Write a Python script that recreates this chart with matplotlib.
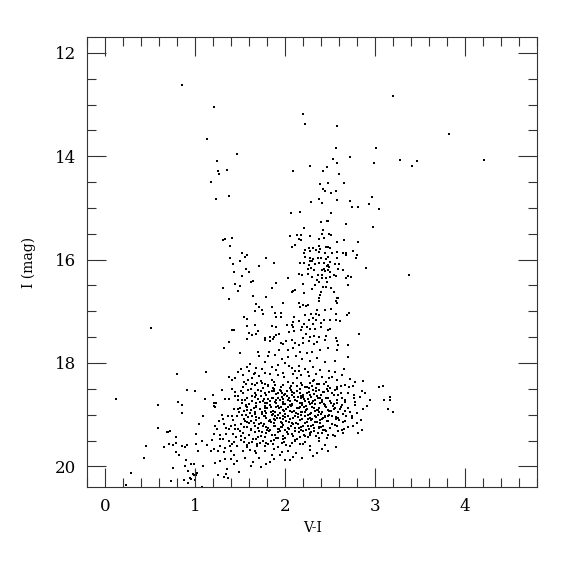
import numpy as np
import matplotlib.pyplot as plt
from matplotlib.ticker import MultipleLocator

plt.rcParams['font.family'] = 'DejaVu Serif'

# (V-I, I) pairs, grouped by region
bright = [(0.85, 12.63), (1.21, 13.05), (1.13, 13.67), (1.46, 13.95), (1.24, 14.10),
          (1.25, 14.28), (1.26, 14.34), (1.35, 14.27), (1.17, 14.50),
          (2.20, 13.18), (2.22, 13.38), (2.58, 13.41), (2.56, 13.85), (3.01, 13.85),
          (2.53, 14.05), (2.72, 14.02), (2.99, 14.13), (2.28, 14.19), (2.46, 14.21),
          (2.58, 14.14), (2.42, 14.28), (2.09, 14.28), (2.60, 14.34), (2.39, 14.53),
          (2.47, 14.52), (2.65, 14.52),
          (3.20, 12.84), (3.82, 13.57), (3.28, 14.08), (3.41, 14.19), (3.46, 14.09),
          (4.21, 14.08), (3.38, 16.29),
          (3.04, 18.47), (3.09, 18.45), (3.10, 18.72), (3.14, 18.89), (3.16, 18.65),
          (3.16, 18.72), (3.20, 18.94)]

blue_branch = [(1.38, 14.77), (1.23, 14.83), (1.41, 15.58), (1.33, 15.60), (1.31, 15.63),
               (1.39, 15.74), (1.39, 15.96), (1.42, 16.08), (1.43, 16.23), (1.44, 16.47),
               (1.31, 16.55), (1.47, 16.61), (1.37, 16.76), (0.51, 17.33), (1.41, 17.37),
               (1.43, 17.37)]

giants = [(2.42, 14.63), (2.44, 14.68), (2.56, 14.67), (2.51, 14.71), (2.38, 14.83),
          (2.29, 14.88), (2.41, 14.90), (2.57, 14.84), (2.97, 14.79), (2.72, 14.87),
          (2.93, 14.92), (2.74, 14.99), (2.81, 14.98), (3.04, 15.02), (2.06, 15.09),
          (2.16, 15.08), (2.51, 15.09), (2.40, 15.28), (2.46, 15.25), (2.48, 15.25),
          (2.68, 15.32), (2.98, 15.37), (2.21, 15.39), (2.42, 15.43), (2.41, 15.51),
          (2.49, 15.50), (2.51, 15.53), (2.13, 15.52), (2.18, 15.53), (2.05, 15.54),
          (2.27, 15.55), (2.15, 15.61), (2.18, 15.62), (2.37, 15.60), (2.43, 15.58),
          (2.57, 15.65), (2.65, 15.63), (2.81, 15.66), (2.11, 15.72), (2.08, 15.75),
          (2.37, 15.73), (2.22, 15.81), (2.26, 15.78), (2.31, 15.78), (2.34, 15.82),
          (2.39, 15.79), (2.45, 15.76), (2.48, 15.75), (2.50, 15.77), (2.21, 15.87),
          (2.28, 15.84), (2.37, 15.86), (2.44, 15.88), (2.52, 15.88), (2.57, 15.86),
          (2.64, 15.88), (2.68, 15.87), (2.75, 15.83), (2.80, 15.92), (2.79, 15.96),
          (1.52, 15.87), (1.55, 15.94), (1.57, 15.92), (1.50, 16.03), (1.79, 15.96),
          (1.87, 16.07), (1.71, 16.12), (2.22, 15.94), (2.28, 15.97), (2.31, 15.99),
          (2.30, 16.02), (2.27, 16.03), (2.36, 15.97), (2.40, 15.97), (2.45, 15.98),
          (2.47, 15.94), (2.57, 15.96), (2.60, 16.08), (2.68, 15.92), (2.16, 16.07),
          (2.21, 16.07), (2.26, 16.10), (2.33, 16.09), (2.37, 16.07), (2.43, 16.07),
          (2.47, 16.10), (2.49, 16.15), (2.50, 16.04), (2.55, 16.09), (2.25, 16.18),
          (2.29, 16.17), (2.32, 16.21), (2.41, 16.20), (2.43, 16.18), (2.44, 16.22),
          (2.46, 16.13), (2.48, 16.20), (2.50, 16.24), (2.59, 16.19), (2.64, 16.21),
          (1.56, 16.18), (1.60, 16.23), (2.90, 16.16), (2.15, 16.28), (2.19, 16.29),
          (2.25, 16.27), (2.30, 16.34), (2.36, 16.29), (2.41, 16.29), (2.41, 16.36),
          (2.45, 16.35), (2.50, 16.34), (2.54, 16.29), (2.56, 16.31), (2.70, 16.31),
          (2.68, 16.36), (2.73, 16.34), (1.52, 16.32), (1.62, 16.43), (1.64, 16.42),
          (2.03, 16.36), (2.35, 16.40), (2.38, 16.44), (2.46, 16.43), (1.50, 16.51),
          (1.85, 16.54), (1.90, 16.45), (2.20, 16.48), (2.33, 16.50), (2.42, 16.53),
          (2.45, 16.53), (2.51, 16.55), (2.70, 16.50), (2.07, 16.63), (2.09, 16.60),
          (2.11, 16.59), (2.30, 16.57), (2.40, 16.63), (2.39, 16.69), (2.54, 16.63),
          (1.64, 16.70), (1.79, 16.72), (2.21, 16.65), (2.38, 16.74), (2.37, 16.81),
          (2.57, 16.75), (2.59, 16.74), (2.56, 16.81), (2.58, 16.84), (1.98, 16.83),
          (2.15, 16.83), (2.20, 16.87), (2.23, 16.89), (2.25, 16.88), (2.16, 16.92),
          (1.68, 16.86), (1.85, 16.92), (1.71, 16.91), (1.66, 17.00), (1.74, 16.98),
          (1.75, 17.05), (1.89, 17.04), (1.95, 17.03), (2.35, 16.98), (2.44, 16.98),
          (2.51, 16.95), (2.56, 17.05), (2.34, 17.05), (2.29, 17.05), (2.38, 17.07),
          (2.31, 17.12), (1.90, 17.11), (1.95, 17.11), (2.10, 17.11), (2.22, 17.08),
          (1.54, 17.11), (1.57, 17.14), (2.71, 17.04), (2.69, 17.07), (2.26, 17.16),
          (2.34, 17.17), (2.43, 17.17), (2.50, 17.17), (2.56, 17.17), (2.61, 17.18),
          (2.15, 17.19), (2.09, 17.21), (2.07, 17.26), (2.02, 17.26), (2.09, 17.31),
          (2.21, 17.25), (2.31, 17.25), (2.40, 17.22), (1.66, 17.26), (1.85, 17.28),
          (1.90, 17.30), (1.58, 17.29), (2.19, 17.31), (2.24, 17.31), (2.27, 17.34),
          (2.33, 17.34), (2.40, 17.31), (2.17, 17.36), (2.48, 17.36), (2.50, 17.35),
          (2.10, 17.39), (2.04, 17.40), (1.70, 17.38), (1.60, 17.42), (1.63, 17.45),
          (1.67, 17.43), (1.93, 17.43), (1.90, 17.45), (2.23, 17.43), (2.32, 17.47),
          (2.82, 17.43), (1.83, 17.50), (1.88, 17.49), (1.78, 17.51), (2.20, 17.51),
          (2.27, 17.50), (2.38, 17.49), (2.45, 17.47), (2.56, 17.51)]

faint_blue = [(1.38, 17.60), (1.32, 17.71), (0.80, 18.22), (1.12, 18.18), (1.47, 18.18),
              (0.91, 18.53), (1.00, 18.54), (1.37, 18.27), (1.41, 18.32), (1.44, 18.30),
              (1.30, 18.52), (1.41, 18.51), (1.20, 18.62), (1.11, 18.70), (0.12, 18.69),
              (0.59, 18.81), (0.81, 18.76), (0.85, 18.81), (1.21, 18.78), (1.23, 18.78),
              (1.21, 18.83), (1.22, 18.85), (1.33, 18.70), (1.38, 18.70), (1.44, 18.64),
              (1.44, 18.57), (1.47, 18.72), (1.43, 18.89), (1.47, 18.90), (0.85, 18.97),
              (1.09, 19.02), (1.30, 19.00), (1.36, 19.03), (1.41, 19.02), (1.46, 19.02),
              (1.26, 19.12), (1.31, 19.09), (1.42, 19.11), (1.32, 19.18), (1.40, 19.21),
              (1.44, 19.20), (1.22, 19.22), (1.24, 19.27), (1.34, 19.26), (1.38, 19.28),
              (1.44, 19.27), (1.04, 19.18), (0.58, 19.25), (0.69, 19.33), (0.70, 19.33),
              (0.72, 19.31), (0.79, 19.43), (1.01, 19.38), (1.21, 19.37), (1.27, 19.39),
              (1.34, 19.37), (1.42, 19.37), (1.45, 19.44), (1.19, 19.49), (1.27, 19.47),
              (1.31, 19.47), (1.38, 19.50), (1.43, 19.52), (1.07, 19.51), (1.01, 19.57),
              (1.13, 19.58), (1.21, 19.66), (1.27, 19.60), (1.33, 19.65), (1.39, 19.60),
              (1.41, 19.56), (1.46, 19.61), (0.45, 19.60), (0.65, 19.63), (0.71, 19.56),
              (0.75, 19.58), (0.79, 19.55), (0.85, 19.60), (0.88, 19.62), (0.91, 19.58),
              (1.17, 19.71), (1.25, 19.71), (1.32, 19.73), (1.40, 19.70), (1.43, 19.78),
              (1.03, 19.71), (0.43, 19.84), (0.79, 19.73), (0.82, 19.78), (0.90, 19.88),
              (1.22, 19.94), (1.28, 19.89), (1.33, 19.85), (1.40, 19.85), (1.46, 19.89),
              (0.95, 19.95), (0.98, 19.95), (1.08, 19.99), (0.75, 20.03), (0.88, 19.99),
              (0.92, 20.09), (1.35, 20.05), (1.43, 19.96), (0.28, 20.12), (0.97, 20.15),
              (1.01, 20.16), (1.02, 20.13), (1.25, 20.16), (1.34, 20.14), (1.32, 20.20),
              (1.36, 20.22), (0.94, 20.22), (0.95, 20.25), (0.87, 20.27), (0.73, 20.29),
              (0.92, 20.33), (1.00, 20.26), (0.23, 20.36), (1.07, 20.40), (0.99, 20.16)]

clump = [(1.58, 17.54), (1.77, 17.55), (1.83, 17.57), (1.86, 17.54), (1.95, 17.61),
         (1.98, 17.63), (2.01, 17.58), (2.07, 17.55), (2.11, 17.62), (2.15, 17.65),
         (2.20, 17.62), (2.26, 17.57), (2.32, 17.63), (2.35, 17.60), (2.44, 17.55),
         (2.57, 17.58), (2.59, 17.65), (2.70, 17.65), (1.70, 17.78), (1.82, 17.78),
         (1.93, 17.74), (2.03, 17.74), (2.09, 17.71), (2.16, 17.78), (2.24, 17.81),
         (2.30, 17.78), (2.39, 17.74), (2.47, 17.71), (2.58, 17.74), (1.50, 17.81),
         (1.71, 17.87), (1.81, 17.87), (1.89, 17.84), (1.96, 17.92), (2.03, 17.89),
         (2.12, 17.87), (2.19, 17.92), (2.28, 17.96), (2.35, 17.91), (2.44, 17.98),
         (2.55, 17.97), (2.70, 17.89), (1.61, 18.02), (1.68, 18.10), (1.77, 17.98),
         (1.85, 18.07), (1.92, 18.03), (2.00, 18.00), (2.07, 18.09), (2.15, 18.05),
         (2.22, 18.11), (2.31, 18.07), (2.39, 18.13), (2.49, 18.16), (2.55, 18.18),
         (1.60, 18.16), (1.51, 18.11), (1.53, 18.23), (1.63, 18.29), (1.71, 18.26),
         (1.77, 18.20), (1.85, 18.32), (1.92, 18.24), (1.99, 18.28), (2.03, 18.36),
         (2.09, 18.22), (2.13, 18.29), (2.15, 18.16), (2.18, 18.39), (2.26, 18.26),
         (2.32, 18.32), (2.37, 18.41), (2.45, 18.36), (2.52, 18.28), (2.63, 18.24),
         (2.72, 18.31), (2.78, 18.36), (2.86, 18.34), (1.54, 18.36), (1.66, 18.42),
         (1.74, 18.39), (1.81, 18.45), (1.89, 18.43), (1.95, 18.47), (2.06, 18.45),
         (2.22, 18.47), (2.30, 18.45), (2.48, 18.45), (2.57, 18.47), (2.66, 18.42),
         (1.51, 18.55), (1.59, 18.52), (1.66, 18.58), (1.73, 18.54), (1.79, 18.62),
         (1.85, 18.55), (1.90, 18.60), (1.96, 18.65), (2.02, 18.54), (2.07, 18.62),
         (2.13, 18.55), (2.18, 18.67), (2.24, 18.58), (2.29, 18.65), (2.34, 18.55),
         (2.40, 18.62), (2.45, 18.68), (2.52, 18.58), (2.59, 18.62), (2.67, 18.71),
         (2.76, 18.68), (2.83, 18.65), (2.85, 18.55), (1.55, 18.71), (1.63, 18.74),
         (1.70, 18.69), (1.77, 18.78), (1.83, 18.73), (1.89, 18.76), (1.94, 18.71),
         (2.00, 18.80), (2.05, 18.74), (2.11, 18.71), (2.16, 18.78), (2.22, 18.74),
         (2.28, 18.80), (2.33, 18.71), (2.39, 18.78), (2.44, 18.81), (2.50, 18.74),
         (2.57, 18.78), (2.63, 18.81), (2.91, 18.84), (2.78, 18.76), (1.50, 18.87),
         (1.56, 18.84), (1.62, 18.91), (1.68, 18.86), (1.74, 18.94), (1.80, 18.87),
         (1.86, 18.92), (1.92, 18.84), (1.97, 18.91), (2.03, 18.86), (2.07, 18.95),
         (2.13, 18.87), (2.18, 18.94), (2.24, 18.89), (2.29, 18.97), (2.35, 18.91),
         (2.41, 18.95), (2.47, 18.91), (2.54, 18.89), (2.59, 18.94), (2.70, 18.87),
         (2.86, 18.89), (1.52, 19.00), (1.59, 19.05), (1.66, 18.99), (1.71, 19.07),
         (1.77, 19.02), (1.83, 19.10), (1.89, 19.02), (1.94, 19.07), (2.00, 18.99),
         (2.05, 19.08), (2.11, 19.02), (2.16, 19.10), (2.22, 19.03), (2.28, 19.07),
         (2.33, 19.02), (2.39, 19.10), (2.44, 19.05), (2.52, 19.02), (2.59, 19.07),
         (2.66, 19.12), (2.74, 19.03), (2.80, 18.97), (2.84, 19.10), (1.51, 19.18),
         (1.58, 19.23), (1.65, 19.16), (1.70, 19.26), (1.76, 19.18), (1.81, 19.25),
         (1.87, 19.16), (1.92, 19.27), (1.98, 19.20), (2.03, 19.26), (2.09, 19.18),
         (2.15, 19.25), (2.20, 19.21), (2.26, 19.27), (2.31, 19.20), (2.37, 19.25),
         (2.42, 19.21), (2.50, 19.26), (2.55, 19.20), (2.63, 19.29), (2.70, 19.23),
         (1.53, 19.36), (1.60, 19.39), (1.66, 19.34), (1.73, 19.42), (1.79, 19.36),
         (1.85, 19.40), (1.92, 19.34), (1.97, 19.42), (2.03, 19.38), (2.09, 19.42),
         (2.15, 19.34), (2.21, 19.40), (2.28, 19.36), (2.34, 19.42), (2.41, 19.36),
         (2.47, 19.39), (2.55, 19.42), (2.85, 19.29), (2.64, 19.36), (1.51, 19.49),
         (1.57, 19.58), (1.63, 19.52), (1.69, 19.60), (1.75, 19.51), (1.81, 19.57),
         (1.88, 19.49), (1.92, 19.62), (1.99, 19.53), (2.05, 19.60), (2.11, 19.51),
         (2.16, 19.57), (2.22, 19.52), (2.28, 19.60), (2.37, 19.51), (2.44, 19.58),
         (2.56, 19.62), (1.53, 19.71), (1.61, 19.68), (1.68, 19.74), (1.77, 19.70),
         (1.85, 19.78), (1.96, 19.73), (2.03, 19.70), (2.09, 19.81), (2.35, 19.74),
         (1.83, 19.92), (2.00, 19.87), (1.62, 20.00), (1.73, 20.01), (1.49, 20.11)]

# extra stars in the crowded core of the clump
core = [(1.56, 18.40), (1.69, 18.38), (1.78, 18.41), (1.87, 18.37), (1.98, 18.42),
        (2.09, 18.39), (2.19, 18.43), (2.27, 18.38), (2.35, 18.41), (2.43, 18.40),
        (1.62, 18.50), (1.75, 18.48), (1.88, 18.51), (1.94, 18.53), (2.05, 18.49),
        (2.16, 18.50), (2.26, 18.48), (2.31, 18.52), (2.46, 18.50), (2.55, 18.53),
        (1.53, 18.59), (1.68, 18.61), (1.82, 18.57), (1.92, 18.59), (2.00, 18.60),
        (2.10, 18.58), (2.20, 18.61), (2.32, 18.60), (2.42, 18.57), (2.62, 18.59),
        (1.58, 18.68), (1.66, 18.66), (1.76, 18.69), (1.86, 18.67), (1.98, 18.70),
        (2.04, 18.68), (2.14, 18.66), (2.25, 18.69), (2.36, 18.67), (2.48, 18.68),
        (1.52, 18.77), (1.60, 18.79), (1.72, 18.76), (1.80, 18.78), (1.90, 18.77),
        (1.97, 18.76), (2.08, 18.79), (2.19, 18.77), (2.30, 18.78), (2.41, 18.76),
        (2.54, 18.79), (1.58, 18.85), (1.65, 18.87), (1.77, 18.84), (1.84, 18.86),
        (1.95, 18.85), (2.06, 18.84), (2.16, 18.86), (2.21, 18.85), (2.32, 18.87),
        (2.44, 18.84), (2.62, 18.86), (1.54, 18.93), (1.66, 18.95), (1.78, 18.92),
        (1.89, 18.94), (1.99, 18.93), (2.10, 18.92), (2.22, 18.95), (2.33, 18.93),
        (2.38, 18.94), (2.51, 18.92), (1.56, 19.00), (1.63, 19.02), (1.74, 18.99),
        (1.85, 19.01), (1.92, 19.00), (2.03, 19.02), (2.14, 18.99), (2.25, 19.01),
        (2.36, 19.00), (2.47, 19.02), (2.64, 18.99), (1.54, 19.08), (1.68, 19.10),
        (1.79, 19.07), (1.88, 19.09), (1.97, 19.08), (2.09, 19.06), (2.19, 19.09),
        (2.30, 19.08), (2.42, 19.07), (2.56, 19.09), (1.57, 19.15), (1.62, 19.13),
        (1.73, 19.16), (1.84, 19.14), (1.95, 19.15), (2.01, 19.13), (2.12, 19.16),
        (2.24, 19.14), (2.35, 19.15), (2.46, 19.13), (1.54, 19.23), (1.66, 19.21),
        (1.79, 19.24), (1.89, 19.22), (1.96, 19.23), (2.06, 19.21), (2.18, 19.24),
        (2.29, 19.22), (2.40, 19.23), (2.58, 19.21), (1.50, 19.31), (1.62, 19.29),
        (1.71, 19.32), (1.83, 19.30), (1.94, 19.31), (2.00, 19.29), (2.11, 19.32),
        (2.23, 19.30), (2.32, 19.31), (2.44, 19.29), (1.55, 19.45), (1.68, 19.47),
        (1.78, 19.44), (1.90, 19.46), (2.00, 19.45), (2.13, 19.47), (2.25, 19.44),
        (2.38, 19.46), (1.60, 19.55), (1.72, 19.54), (1.86, 19.56), (1.96, 19.55),
        (2.08, 19.54), (2.20, 19.56)]

core_extra = [(1.47, 18.63), (1.49, 18.95), (1.51, 19.42), (1.53, 18.47), (1.55, 19.12),
              (1.56, 18.81), (1.58, 19.63), (1.59, 18.33), (1.61, 18.97), (1.62, 19.27),
              (1.63, 18.64), (1.64, 19.48), (1.65, 18.21), (1.67, 18.83), (1.68, 19.05),
              (1.69, 19.57), (1.70, 18.52), (1.71, 19.19), (1.72, 18.90), (1.73, 18.35),
              (1.74, 19.34), (1.75, 18.73), (1.76, 19.03), (1.77, 19.61), (1.78, 18.58),
              (1.79, 18.96), (1.80, 19.29), (1.81, 18.43), (1.82, 19.13), (1.83, 18.81),
              (1.84, 19.50), (1.85, 18.68), (1.86, 18.99), (1.87, 19.21), (1.88, 18.54),
              (1.89, 19.39), (1.90, 18.86), (1.91, 19.07), (1.92, 18.67), (1.93, 19.28),
              (1.94, 18.97), (1.95, 18.55), (1.96, 19.17), (1.97, 18.80), (1.98, 19.48),
              (1.99, 18.62), (2.00, 19.05), (2.01, 18.89), (2.02, 19.33), (2.03, 18.71),
              (2.04, 19.14), (2.05, 18.92), (2.06, 18.52), (2.07, 19.37), (2.08, 18.81),
              (2.09, 19.06), (2.10, 18.66), (2.11, 19.25), (2.12, 18.96), (2.13, 18.44),
              (2.14, 19.18), (2.15, 18.88), (2.16, 19.43), (2.17, 18.63), (2.18, 19.01),
              (2.19, 18.82), (2.20, 19.31), (2.21, 18.69), (2.22, 19.16), (2.23, 18.91),
              (2.24, 18.47), (2.25, 19.08), (2.26, 18.76), (2.27, 19.39), (2.28, 18.61),
              (2.29, 19.11), (2.30, 18.85), (2.31, 18.34), (2.32, 19.26), (2.33, 18.79),
              (2.34, 19.04), (2.35, 18.64), (2.36, 19.35), (2.37, 18.88), (2.38, 18.53),
              (2.39, 19.17), (2.40, 18.98), (2.41, 18.71), (2.42, 19.29), (2.43, 18.57),
              (2.44, 19.03), (2.45, 18.86), (2.46, 19.45), (2.47, 18.67), (2.48, 19.13),
              (2.49, 18.93), (2.50, 18.48), (2.52, 19.19), (2.53, 18.83), (2.54, 18.61),
              (2.56, 19.05), (2.57, 18.71), (2.59, 19.31), (2.61, 18.90), (2.62, 18.44),
              (2.64, 19.14), (2.66, 18.76), (2.68, 19.02), (2.70, 18.58), (2.72, 18.95),
              (2.75, 19.21), (2.78, 18.82), (2.81, 19.36),
              (1.48, 19.27), (1.52, 18.72), (1.54, 19.53), (1.57, 18.91), (1.60, 19.16),
              (1.63, 18.41), (1.66, 19.71), (1.68, 18.77), (1.70, 19.44), (1.73, 18.63),
              (1.75, 19.22), (1.77, 18.88), (1.79, 19.55), (1.81, 18.69), (1.82, 19.31),
              (1.84, 18.95), (1.86, 18.48), (1.87, 19.66), (1.89, 19.11), (1.90, 18.72),
              (1.92, 19.45), (1.93, 18.88), (1.95, 19.24), (1.96, 18.59), (1.98, 19.03),
              (1.99, 18.79), (2.01, 19.58), (2.02, 18.64), (2.04, 19.27), (2.05, 18.82),
              (2.07, 18.56), (2.08, 19.17), (2.10, 18.93), (2.11, 19.49), (2.13, 18.73),
              (2.14, 19.04), (2.16, 18.58), (2.17, 19.29), (2.19, 18.95), (2.20, 18.66),
              (2.22, 19.41), (2.23, 18.84), (2.25, 19.21), (2.26, 18.57), (2.28, 18.99),
              (2.29, 19.33), (2.31, 18.74), (2.33, 19.14), (2.34, 18.48), (2.36, 18.91),
              (2.37, 19.23), (2.39, 18.67), (2.41, 19.09), (2.43, 18.80), (2.45, 19.32),
              (2.47, 18.55), (2.49, 19.01), (2.51, 18.78), (2.53, 19.40), (2.55, 18.87),
              (2.58, 18.51), (2.60, 19.11), (2.63, 18.68), (2.65, 19.27), (2.67, 18.93),
              (2.71, 18.47), (2.74, 19.07), (2.77, 18.62), (2.80, 19.16),
              (1.55, 19.84), (1.64, 19.91), (1.71, 19.83), (1.79, 19.95), (1.88, 19.86),
              (1.94, 19.79), (2.05, 19.88), (2.12, 19.74), (2.19, 19.84), (2.27, 19.69),
              (2.31, 19.80), (2.41, 19.66), (2.47, 19.71),
              (1.58, 18.08), (1.66, 18.19), (1.74, 18.12), (1.83, 18.22), (1.90, 18.14),
              (1.97, 18.19), (2.04, 18.06), (2.11, 18.15), (2.18, 18.24), (2.25, 18.17),
              (2.34, 18.21), (2.41, 18.27), (2.49, 18.29), (2.58, 18.33), (2.65, 18.12),
              (2.75, 18.45), (2.89, 18.58), (2.94, 18.71)]

groups = [bright, blue_branch, giants, faint_blue, clump, core, core_extra]
vi = np.array([p[0] for g in groups for p in g])
imag = np.array([p[1] for g in groups for p in g])

fig = plt.figure(figsize=(5.75, 5.75), dpi=100)
ax = fig.add_axes([0.152, 0.153, 0.782, 0.782])

ax.scatter(vi, imag, s=2.8, marker='s', color='black', linewidths=0)

ax.set_xlim(-0.2, 4.8)
ax.set_ylim(20.4, 11.7)
ax.xaxis.set_major_locator(MultipleLocator(1))
ax.xaxis.set_minor_locator(MultipleLocator(0.2))
ax.yaxis.set_major_locator(MultipleLocator(2))
ax.yaxis.set_minor_locator(MultipleLocator(0.5))
ax.tick_params(which='both', direction='in', top=True, right=True,
               labelsize=12, width=0.8, color='#333333')
ax.tick_params(which='major', length=13.5, pad=8)
ax.tick_params(which='minor', length=6.5)
for s in ax.spines.values():
    s.set_linewidth(0.8)
    s.set_color('#333333')

ax.set_xlabel('V-I', fontsize=10)
ax.set_ylabel('I (mag)', fontsize=10, labelpad=14)

plt.savefig('out.png', dpi=100)
